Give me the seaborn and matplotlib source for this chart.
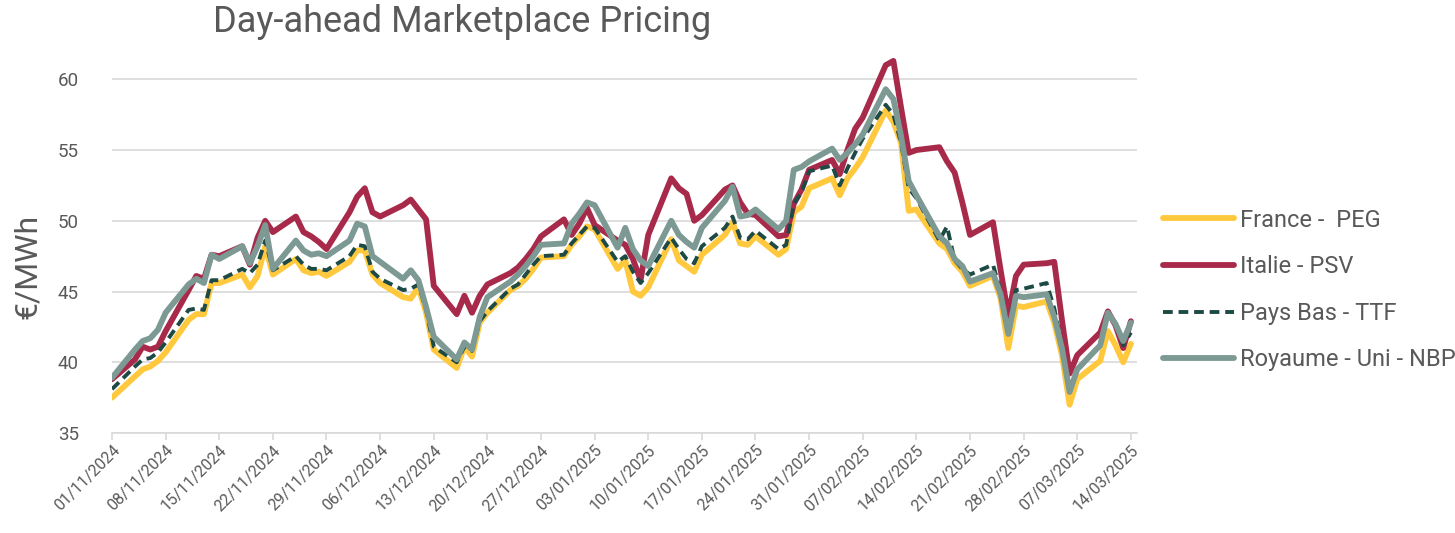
import pandas as pd
import seaborn as sns
import matplotlib.pyplot as plt
import matplotlib.dates as mdates

# trading days, 01/11/2024 -> 14/03/2025
dates = pd.bdate_range('2024-11-01', '2025-03-14')

# values (EUR/MWh), one per trading day, grouped by month
france_peg = [
    37.5, 39.0, 39.5, 39.7, 40.1, 40.7, 43.0, 43.4, 43.4, 45.6, 45.6, 46.2, 45.3, 46.1, 48.2, 46.2, 47.3, 46.5, 46.3, 46.4, 46.1,
    47.1, 47.9, 47.9, 46.2, 45.6, 44.6, 44.5, 45.3, 43.5, 40.9, 39.6, 41.1, 40.4, 42.8, 43.5, 45.1, 45.4, 45.9, 46.6, 47.4, 47.5, 48.3,
    48.9, 49.6, 49.4, 46.6, 47.2, 45.0, 44.7, 45.3, 48.7, 47.2, 46.8, 46.4, 47.6, 49.0, 49.9, 48.4, 48.3, 48.9, 47.6, 48.0, 50.6, 51.0, 52.3,
    53.0, 51.8, 53.0, 53.7, 54.5, 57.8, 57.0, 55.5, 50.7, 50.8, 48.4, 48.0, 47.0, 46.4, 45.4, 46.1, 44.5, 41.0, 44.0, 43.9,
    44.3, 42.8, 40.5, 37.0, 38.8, 40.1, 42.2, 41.2, 40.0, 41.3,
]
italie_psv = [
    38.8, 40.2, 41.1, 40.9, 41.1, 42.2, 45.1, 46.1, 45.9, 47.6, 47.5, 48.2, 46.9, 48.8, 50.0, 49.2, 50.3, 49.2, 48.9, 48.5, 48.0,
    50.6, 51.7, 52.3, 50.6, 50.3, 51.1, 51.5, 50.8, 50.1, 45.4, 43.4, 44.7, 43.5, 44.7, 45.5, 46.3, 46.7, 47.3, 48.0, 48.9, 50.1, 49.0,
    49.8, 50.9, 49.7, 48.6, 48.3, 47.3, 45.8, 49.0, 53.0, 52.3, 51.9, 50.0, 50.4, 52.2, 52.5, 51.3, 50.5, 50.4, 48.9, 49.0, 51.2, 52.2, 53.6,
    54.3, 53.3, 55.0, 56.5, 57.3, 61.0, 61.3, 58.0, 54.8, 55.0, 55.2, 54.2, 53.4, 51.3, 49.0, 49.9, 46.5, 43.3, 46.1, 46.9,
    47.0, 47.1, 43.0, 39.2, 40.5, 42.1, 43.6, 42.6, 41.0, 42.9,
]
pays_bas_ttf = [
    38.1, 39.7, 40.2, 40.3, 40.7, 41.4, 43.7, 43.8, 43.7, 45.8, 45.8, 46.6, 46.3, 46.9, 48.6, 46.5, 47.5, 46.9, 46.6, 46.6, 46.5,
    47.5, 48.3, 48.2, 46.4, 45.9, 45.1, 45.2, 45.5, 43.7, 41.1, 40.0, 41.1, 40.8, 42.9, 43.6, 45.2, 45.5, 46.2, 46.9, 47.5, 47.6, 48.4,
    49.0, 49.6, 49.5, 47.1, 47.5, 46.4, 45.6, 46.3, 48.8, 48.0, 47.3, 47.0, 48.2, 49.5, 50.3, 48.8, 48.7, 49.3, 48.0, 48.3, 51.2, 52.0, 53.5,
    53.9, 52.5, 53.7, 54.8, 55.8, 58.2, 57.5, 55.5, 52.3, 51.6, 48.6, 49.6, 47.2, 46.6, 46.2, 46.9, 45.0, 42.5, 45.1, 45.2,
    45.6, 43.8, 41.2, 38.1, 39.4, 41.3, 43.5, 42.6, 41.2, 42.1,
]
royaume_uni_nbp = [
    38.9, 40.9, 41.5, 41.7, 42.3, 43.5, 45.5, 45.9, 45.6, 47.6, 47.3, 48.2, 47.0, 48.2, 49.7, 46.6, 48.6, 47.9, 47.6, 47.7, 47.5,
    48.6, 49.8, 49.6, 47.5, 47.1, 45.9, 46.5, 45.8, 43.9, 41.8, 40.2, 41.4, 40.9, 43.2, 44.6, 45.7, 46.2, 46.8, 47.5, 48.3, 48.4, 49.8,
    50.5, 51.3, 51.1, 48.1, 49.5, 48.0, 47.2, 46.8, 50.0, 49.0, 48.5, 48.1, 49.5, 51.4, 52.4, 50.3, 50.4, 50.8, 49.4, 50.0, 53.6, 53.8, 54.2,
    55.1, 54.3, 54.8, 55.4, 56.1, 59.3, 58.6, 56.0, 52.8, 51.8, 48.9, 48.4, 47.3, 46.8, 45.7, 46.3, 44.8, 42.0, 44.7, 44.6,
    44.8, 43.2, 41.0, 37.9, 39.5, 41.2, 43.5, 42.7, 41.5, 42.8,
]

series_labels = ['France -  PEG', 'Italie - PSV', 'Pays Bas - TTF', 'Royaume - Uni - NBP']
y_ticks = [35, 40, 45, 50, 55, 60]

df = pd.DataFrame({
    'date': dates,
    series_labels[0]: france_peg,
    series_labels[1]: italie_psv,
    series_labels[2]: pays_bas_ttf,
    series_labels[3]: royaume_uni_nbp,
})
long_df = df.melt(id_vars='date', var_name='marche', value_name='prix')

colors = {
    series_labels[0]: '#FFC83D',
    series_labels[1]: '#A82A4A',
    series_labels[2]: '#1D4A45',
    series_labels[3]: '#7D9993',
}

sns.set_theme(style='white')
plt.rcParams['font.family'] = ['Roboto', 'DejaVu Sans']

fig = plt.figure(figsize=(14.55, 5.33), dpi=100)
ax = fig.add_axes([112 / 1455, 100 / 533, 1025 / 1455, 382 / 533])

for name in series_labels:
    sub = long_df[long_df['marche'] == name]
    if name == series_labels[2]:
        sns.lineplot(data=sub, x='date', y='prix', ax=ax, color=colors[name], estimator=None,
                     linewidth=2.8, linestyle=(0, (2.5, 1.5)), label=name, legend=False)
    else:
        sns.lineplot(data=sub, x='date', y='prix', ax=ax, color=colors[name], estimator=None,
                     linewidth=4.2, solid_capstyle='round', label=name, legend=False)

# axes cosmetics
ax.set_ylim(35, 62)
ax.set_xlim(dates[0], dates[-1] + pd.Timedelta(days=0.8))
ax.set_yticks(y_ticks)
ax.set_xticks(pd.date_range('2024-11-01', '2025-03-14', freq='7D'))
ax.xaxis.set_major_formatter(mdates.DateFormatter('%d/%m/%Y'))

ax.yaxis.grid(True, color='#D9D9D9', linewidth=1.2)
ax.set_axisbelow(True)
for side in ['left', 'top', 'right']:
    ax.spines[side].set_visible(False)
ax.spines['bottom'].set_color('#D9D9D9')
ax.spines['bottom'].set_linewidth(1.2)

ax.tick_params(axis='x', bottom=True, length=5, width=1.2, color='#D9D9D9', direction='out',
               labelsize=11.5, labelcolor='#595959', pad=2)
plt.setp(ax.get_xticklabels(), rotation=45, ha='right', rotation_mode='anchor')
ax.tick_params(axis='y', left=False, length=0, labelsize=13.5, labelcolor='#595959', pad=24)

ax.set_xlabel('')
ax.set_ylabel('€/MWh', fontsize=23, color='#595959')
ax.yaxis.set_label_coords(-0.068, 0.435)

fig.text(213 / 1455, 1 - 22 / 533, 'Day-ahead Marketplace Pricing', fontsize=26,
         color='#595959', ha='left', va='center')

handles, labels = ax.get_legend_handles_labels()
fig.legend(handles, labels, loc='center left', bbox_to_anchor=(1163 / 1455, 1 - 290 / 533),
           frameon=False, fontsize=17, labelcolor='#595959', handlelength=3.0,
           handletextpad=0.25, labelspacing=1.0, borderpad=0, borderaxespad=0)

fig.savefig('out.png', dpi=100, facecolor='white')
